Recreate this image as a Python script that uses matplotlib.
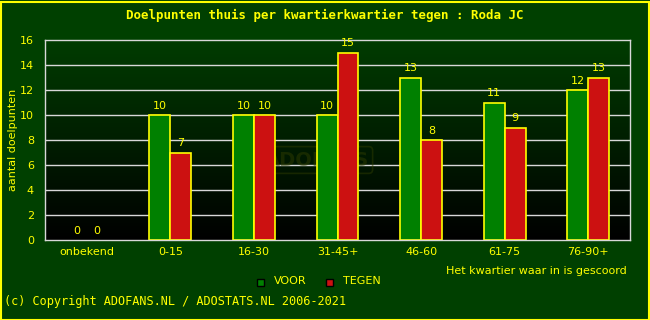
import numpy as np
import matplotlib
matplotlib.use('Agg')
import matplotlib.pyplot as plt
from matplotlib.patches import Rectangle

# data
categories = ['onbekend', '0-15', '16-30', '31-45+', '46-60', '61-75', '76-90+']
voor = [0, 10, 10, 10, 13, 11, 12]
tegen = [0, 7, 10, 15, 8, 9, 13]

yellow = '#ffff00'
bg = '#004000'

fig = plt.figure(figsize=(6.5, 3.2), dpi=100, facecolor=bg)
ax = fig.add_axes([45/650, 80/320, 585/650, 200/320])
ax.set_facecolor('black')

# gradient background of the plot area
grad = np.linspace(0, 1, 256).reshape(-1, 1)
cmap = matplotlib.colors.LinearSegmentedColormap.from_list('g', ['#000000', '#003c00'])
ax.imshow(grad, extent=[-0.5, 6.5, 0, 16], origin='lower', aspect='auto', cmap=cmap, zorder=0)

for yv in range(2, 16, 2):
    ax.axhline(yv, color='#d8d8d8', lw=1.0, zorder=1)

x = np.arange(len(categories))
w = 0.25
ax.bar(x - w/2, voor, w, color='#008000', edgecolor=yellow,
       linewidth=[1.2 if v > 0 else 0 for v in voor], zorder=2)
ax.bar(x + w/2, tegen, w, color='#cc1111', edgecolor=yellow,
       linewidth=[1.2 if v > 0 else 0 for v in tegen], zorder=2)

for xi, v in zip(x, voor):
    ax.text(xi - w/2, v + 0.35, str(v), color=yellow, ha='center', va='bottom', fontsize=8, zorder=3)
for xi, v in zip(x, tegen):
    ax.text(xi + w/2, v + 0.35, str(v), color=yellow, ha='center', va='bottom', fontsize=8, zorder=3)

# watermark
ax.text(2.75, 6.4, 'ADOFANS', color='#2e3c00', alpha=0.5, fontsize=14, fontweight='bold',
        ha='center', va='center', zorder=1.5,
        bbox=dict(boxstyle='round,pad=0.2', fc='none', ec='#2e3c00', lw=1.2, alpha=0.5))

ax.set_xlim(-0.5, 6.5)
ax.set_ylim(0, 16)
ax.set_yticks(range(0, 17, 2))
ax.set_xticks(x)
ax.set_xticklabels(categories)
ax.tick_params(colors=yellow, labelsize=8, length=0, pad=5)
ax.tick_params(axis='y', pad=8)
for s in ax.spines.values():
    s.set_color('#d8d8d8')
    s.set_linewidth(1.0)

fig.text(13/650, 1 - 140/320, 'aantal doelpunten', color=yellow, fontsize=8,
         rotation=90, ha='center', va='center')
fig.text(627/650, 1 - 271/320, 'Het kwartier waar in is gescoord', color=yellow,
         fontsize=8, ha='right', va='center')

fig.text(325/650, 1 - 15/320, 'Doelpunten thuis per kwartierkwartier tegen : Roda JC',
         color=yellow, fontsize=9, family='DejaVu Sans Mono', fontweight='bold',
         ha='center', va='center')
fig.text(4/650, 1 - 302/320, '(c) Copyright ADOFANS.NL / ADOSTATS.NL 2006-2021',
         color=yellow, fontsize=8.6, family='DejaVu Sans Mono', ha='left', va='center')

# legend
for lx, col, lab in [(257, '#008000', 'VOOR'), (326, '#cc1111', 'TEGEN')]:
    fig.patches.append(Rectangle((lx/650, 1 - 286/320), 7/650, 7/320, transform=fig.transFigure,
                                 fc=col, ec='black', lw=1, figure=fig))
    fig.text((lx + 17)/650, 1 - 281/320, lab, color=yellow, fontsize=8, ha='left', va='center')

# yellow border
fig.patches.append(Rectangle((0.5/650, 0.5/320), 1 - 2/650, 1 - 2/320, transform=fig.transFigure,
                             fc='none', ec=yellow, lw=1.5, figure=fig))

fig.savefig('out.png', dpi=100, facecolor=bg)
